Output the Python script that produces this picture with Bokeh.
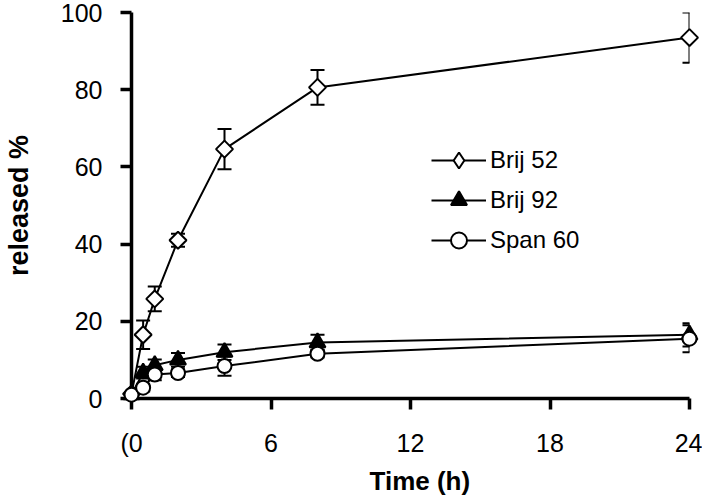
import math
import numpy as np
from bokeh.plotting import figure
from bokeh.models import (Range1d, Whisker, ColumnDataSource, Legend, LegendItem,
                          Title, FixedTicker, TeeHead)
from bokeh.embed import file_html
from bokeh.resources import INLINE

# ---- data ----
time_h = [0, 0.5, 1, 2, 4, 8, 24]
brij52 = [1.2, 16.5, 25.8, 41.0, 64.6, 80.6, 93.5]
brij52_err = [0.5, 3.7, 3.2, 1.7, 5.2, 4.5, 6.5]
brij92 = [1.0, 6.7, 8.6, 10.0, 12.0, 14.5, 16.5]
brij92_err = [0.5, 1.5, 1.5, 1.8, 2.0, 2.0, 3.0]
span60 = [1.0, 2.8, 6.2, 6.6, 8.4, 11.6, 15.5]
span60_err = [0.5, 1.0, 1.5, 1.0, 2.5, 1.0, 3.5]

x_ticks = [0, 6, 12, 18, 24]
x_tick_labels = {0: "(0", 6: "6", 12: "12", 18: "18", 24: "24"}
y_ticks = [0, 20, 40, 60, 80, 100]

FONT = "Liberation Sans"

p = figure(width=702, height=499, output_backend="svg", toolbar_location=None,
           x_range=Range1d(0, 24), y_range=Range1d(0, 100),
           min_border_left=130, min_border_right=13, min_border_top=12,
           min_border_bottom=100)
p.grid.visible = False
p.outline_line_color = None
p.background_fill_color = "white"

for ax, ticks in ((p.xaxis, x_ticks), (p.yaxis, y_ticks)):
    ax.ticker = FixedTicker(ticks=ticks)
    ax.axis_line_width = 3.5
    ax.axis_line_color = "black"
    ax.major_tick_line_width = 3.5
    ax.major_tick_line_color = "black"
    ax.major_tick_in = 0
    ax.major_tick_out = 11
    ax.minor_tick_line_color = None
    ax.major_label_text_font = FONT
    ax.major_label_text_font_size = "25px"
    ax.major_label_text_color = "black"

p.xaxis.major_label_overrides = x_tick_labels
p.xaxis.major_label_standoff = 19
p.yaxis.major_label_standoff = 18
p.yaxis.axis_label = "released %"
p.yaxis.axis_label_standoff = 24
p.yaxis.axis_label_text_font = FONT
p.yaxis.axis_label_text_font_style = "bold"
p.yaxis.axis_label_text_font_size = "27px"
p.yaxis.axis_label_text_color = "black"

series = [
    ("Brij 52", brij52, brij52_err, dict(marker="square", angle=math.pi / 4, size=12, fill_color="white"), "diamond"),
    ("Brij 92", brij92, brij92_err, dict(marker="triangle", size=16, fill_color="black"), None),
    ("Span 60", span60, span60_err, dict(marker="circle", size=14, fill_color="white"), None),
]

items = []
for name, vals, errs, mk, legend_marker in series:
    src = ColumnDataSource(dict(t=time_h, v=vals,
                                up=[v + e for v, e in zip(vals, errs)],
                                lo=[v - e for v, e in zip(vals, errs)]))
    w = Whisker(source=src, base="t", upper="up", lower="lo", line_width=2, line_color="black",
                level="annotation",
                upper_head=TeeHead(size=14, line_width=2, line_color="black"),
                lower_head=TeeHead(size=14, line_width=2, line_color="black"))
    p.add_layout(w)
    lr = p.line("t", "v", source=src, line_width=2, line_color="black")
    sr = p.scatter("t", "v", source=src, line_color="black", line_width=2, level="overlay", **mk)
    if legend_marker:
        lg = p.scatter(x=np.array([np.nan]), y=np.array([np.nan]), marker=legend_marker,
                       size=16, fill_color="white", line_color="black", line_width=2)
        items.append(LegendItem(label=name, renderers=[lr, lg]))
    else:
        items.append(LegendItem(label=name, renderers=[lr, sr]))

legend_style = dict(glyph_width=55, glyph_height=40, label_height=20, padding=0, margin=0,
                    border_line_color=None, background_fill_alpha=0, label_text_font=FONT,
                    label_text_font_size="24px", label_text_color="black", label_standoff=4)
legend1 = Legend(items=items[:1], location=(300, 218), spacing=0, **legend_style)
legend2 = Legend(items=items[1:], location=(300, 138), spacing=-6, **legend_style)
p.add_layout(legend1)
p.add_layout(legend2)

p.add_layout(Title(text="Time (h)", align="left", offset=238, text_font=FONT,
                   text_font_style="bold", text_font_size="26px", text_color="black",
                   standoff=8), "below")

open("out.html", "w").write(file_html(p, INLINE))
